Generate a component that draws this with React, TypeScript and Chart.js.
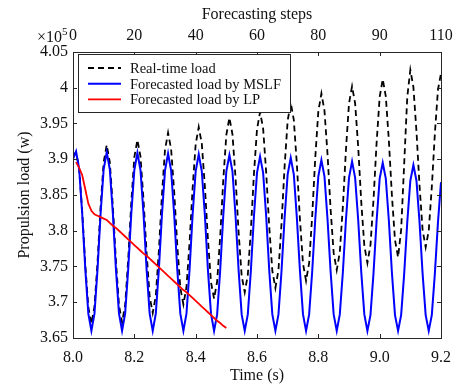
import { useEffect, useRef } from 'react';
import { Chart, registerables } from 'chart.js';

Chart.register(...registerables);

// Sampling times (s)
const sampleTimes = [
  8.00, 8.01, 8.02, 8.03, 8.04, 8.05, 8.06, 8.07, 8.08, 8.09,
  8.10, 8.11, 8.12, 8.13, 8.14, 8.15, 8.16, 8.17, 8.18, 8.19,
  8.20, 8.21, 8.22, 8.23, 8.24, 8.25, 8.26, 8.27, 8.28, 8.29,
  8.30, 8.31, 8.32, 8.33, 8.34, 8.35, 8.36, 8.37, 8.38, 8.39,
  8.40, 8.41, 8.42, 8.43, 8.44, 8.45, 8.46, 8.47, 8.48, 8.49,
  8.50, 8.51, 8.52, 8.53, 8.54, 8.55, 8.56, 8.57, 8.58, 8.59,
  8.60, 8.61, 8.62, 8.63, 8.64, 8.65, 8.66, 8.67, 8.68, 8.69,
  8.70, 8.71, 8.72, 8.73, 8.74, 8.75, 8.76, 8.77, 8.78, 8.79,
  8.80, 8.81, 8.82, 8.83, 8.84, 8.85, 8.86, 8.87, 8.88, 8.89,
  8.90, 8.91, 8.92, 8.93, 8.94, 8.95, 8.96, 8.97, 8.98, 8.99,
  9.00, 9.01, 9.02, 9.03, 9.04, 9.05, 9.06, 9.07, 9.08, 9.09,
  9.10, 9.11, 9.12, 9.13, 9.14, 9.15, 9.16, 9.17, 9.18, 9.19,
  9.20,
];

// Real-time load (x10^5 w)
const realTimeLoad = [
  3.905, 3.910, 3.887, 3.827, 3.753, 3.693, 3.670, 3.694, 3.756, 3.834, 3.896,
  3.920, 3.896, 3.834, 3.758, 3.696, 3.672, 3.696, 3.760, 3.839, 3.903,
  3.927, 3.904, 3.843, 3.769, 3.708, 3.685, 3.709, 3.772, 3.850, 3.913,
  3.937, 3.914, 3.854, 3.780, 3.720, 3.697, 3.721, 3.783, 3.859, 3.921,
  3.945, 3.922, 3.862, 3.788, 3.728, 3.705, 3.729, 3.792, 3.871, 3.934,
  3.958, 3.935, 3.874, 3.798, 3.737, 3.714, 3.738, 3.801, 3.879, 3.942,
  3.966, 3.943, 3.881, 3.805, 3.744, 3.720, 3.745, 3.810, 3.890, 3.954,
  3.979, 3.955, 3.893, 3.816, 3.754, 3.730, 3.755, 3.821, 3.902, 3.967,
  3.992, 3.968, 3.907, 3.830, 3.769, 3.745, 3.770, 3.834, 3.913, 3.978,
  4.002, 3.978, 3.917, 3.840, 3.779, 3.755, 3.780, 3.844, 3.923, 3.987,
  4.012, 3.988, 3.926, 3.849, 3.787, 3.763, 3.801, 3.894, 3.987, 4.025,
  4.001, 3.939, 3.863, 3.801, 3.777, 3.800, 3.861, 3.936, 3.997, 4.020,
];

// Forecasted load by MSLF (x10^5 w)
const mslfLoad = [
  3.900, 3.911, 3.887, 3.824, 3.747, 3.684, 3.660, 3.684, 3.746, 3.824, 3.886,
  3.910, 3.886, 3.824, 3.746, 3.684, 3.660, 3.684, 3.746, 3.823, 3.885,
  3.909, 3.885, 3.823, 3.746, 3.684, 3.660, 3.684, 3.746, 3.822, 3.884,
  3.908, 3.884, 3.822, 3.746, 3.684, 3.660, 3.684, 3.745, 3.822, 3.883,
  3.907, 3.883, 3.822, 3.745, 3.684, 3.660, 3.683, 3.745, 3.821, 3.883,
  3.906, 3.883, 3.821, 3.745, 3.683, 3.660, 3.683, 3.744, 3.820, 3.881,
  3.904, 3.881, 3.820, 3.744, 3.683, 3.660, 3.683, 3.744, 3.818, 3.879,
  3.902, 3.879, 3.818, 3.744, 3.683, 3.660, 3.683, 3.743, 3.816, 3.876,
  3.899, 3.876, 3.816, 3.743, 3.683, 3.660, 3.683, 3.742, 3.815, 3.874,
  3.897, 3.874, 3.815, 3.742, 3.683, 3.660, 3.682, 3.741, 3.814, 3.873,
  3.895, 3.873, 3.814, 3.741, 3.682, 3.660, 3.682, 3.740, 3.812, 3.870,
  3.892, 3.870, 3.812, 3.740, 3.682, 3.660, 3.682, 3.740, 3.811, 3.868,
];

// Forecasted load by LP (x10^5 w), from 8.01 s to 8.50 s
const lpTimes = sampleTimes.slice(1, 51);
const lpLoad = [
  3.896, 3.888, 3.878, 3.858, 3.838, 3.828, 3.823, 3.821, 3.819, 3.817,
  3.815, 3.811, 3.807, 3.804, 3.800, 3.796, 3.792, 3.788, 3.784, 3.780,
  3.776, 3.772, 3.768, 3.765, 3.761, 3.757, 3.753, 3.749, 3.745, 3.741,
  3.737, 3.733, 3.729, 3.725, 3.721, 3.717, 3.714, 3.710, 3.706, 3.702,
  3.698, 3.694, 3.690, 3.686, 3.682, 3.678, 3.674, 3.671, 3.667, 3.664,
];

const stepLabels = ['0', '20', '40', '60', '80', '90', '110'];
const seriesNames = ['Real-time load', 'Forecasted load by MSLF', 'Forecasted load by LP'];

const FONT = 'Liberation Serif';
const INK = '#262626';

const boxPlugin = {
  id: 'matlabDecor',
  afterDatasetsDraw(chart: any) {
    const { ctx, chartArea: a, scales } = chart;
    ctx.save();
    // inward ticks
    ctx.strokeStyle = INK;
    ctx.lineWidth = 1;
    const tl = 4;
    scales.x.ticks.forEach((t: any) => {
      const px = Math.round(scales.x.getPixelForValue(t.value)) + 0.5;
      ctx.beginPath();
      ctx.moveTo(px, a.bottom);
      ctx.lineTo(px, a.bottom - tl);
      ctx.moveTo(px, a.top);
      ctx.lineTo(px, a.top + tl);
      ctx.stroke();
    });
    scales.y.ticks.forEach((t: any) => {
      const py = Math.round(scales.y.getPixelForValue(t.value)) + 0.5;
      ctx.beginPath();
      ctx.moveTo(a.left, py);
      ctx.lineTo(a.left + tl, py);
      ctx.moveTo(a.right, py);
      ctx.lineTo(a.right - tl, py);
      ctx.stroke();
    });
    // box
    ctx.strokeRect(Math.round(a.left) + 0.5, Math.round(a.top) + 0.5, Math.round(a.right - a.left), Math.round(a.bottom - a.top));

    // legend
    const lx = a.left + 5;
    const ly = a.top + 2;
    const lw = 212;
    const lh = 58;
    ctx.fillStyle = '#ffffff';
    ctx.fillRect(lx, ly, lw, lh);
    ctx.strokeStyle = INK;
    ctx.lineWidth = 1;
    ctx.strokeRect(Math.round(lx) + 0.5, Math.round(ly) + 0.5, lw, lh);
    ctx.font = `14.5px "${FONT}"`;
    ctx.textBaseline = 'middle';
    ctx.textAlign = 'left';
    chart.data.datasets.forEach((ds: any, i: number) => {
      const y = ly + 14 + i * 15.7;
      ctx.beginPath();
      ctx.strokeStyle = ds.borderColor;
      ctx.lineWidth = ds.borderWidth;
      ctx.setLineDash(ds.borderDash || []);
      ctx.moveTo(lx + 10, y);
      ctx.lineTo(lx + 43, y);
      ctx.stroke();
      ctx.setLineDash([]);
      ctx.fillStyle = '#111';
      ctx.fillText(ds.label, lx + 52, y + 1);
    });

    // exponent label
    ctx.fillStyle = '#111';
    ctx.textBaseline = 'alphabetic';
    ctx.font = `16px "${FONT}"`;
    ctx.fillText('\u00d710', a.left - 36, a.top - 10);
    ctx.font = `11px "${FONT}"`;
    ctx.fillText('5', a.left - 11, a.top - 17);
    ctx.restore();
  },
};

export default function App() {
  const ref = useRef<HTMLCanvasElement>(null);
  useEffect(() => {
    document.body.style.margin = '0';
    const tickFont = { family: FONT, size: 16 };
    const noGrid = { display: false, drawTicks: false, tickLength: 0 };
    const chart = new Chart(ref.current!, {
      type: 'line',
      data: {
        datasets: [
          {
            label: seriesNames[0],
            data: sampleTimes.map((t, i) => ({ x: t, y: realTimeLoad[i] })),
            borderColor: '#000000',
            borderWidth: 1.8,
            borderDash: [6, 4],
            pointRadius: 0,
            tension: 0,
            order: 3,
          },
          {
            label: seriesNames[1],
            data: sampleTimes.map((t, i) => ({ x: t, y: mslfLoad[i] })),
            borderColor: '#0000ff',
            borderWidth: 2,
            pointRadius: 0,
            tension: 0,
            order: 2,
          },
          {
            label: seriesNames[2],
            data: lpTimes.map((t, i) => ({ x: t, y: lpLoad[i] })),
            borderColor: '#ff0000',
            borderWidth: 1.8,
            pointRadius: 0,
            tension: 0,
            order: 1,
          },
        ],
      },
      options: {
        animation: false,
        responsive: false,
        maintainAspectRatio: false,
        layout: { padding: 0 },
        plugins: { legend: { display: false }, tooltip: { enabled: false } },
        scales: {
          x: {
            type: 'linear',
            position: 'bottom',
            min: 8,
            max: 9.2,
            grid: noGrid,
            border: { display: false },
            ticks: {
              stepSize: 0.2,
              font: tickFont,
              color: '#111',
              padding: 10,
              maxRotation: 0,
              callback: (v: any) => Number(v).toFixed(1),
            },
            title: { display: true, text: 'Time (s)', font: tickFont, color: '#111', padding: { top: 0, bottom: 0 } },
            afterFit: (s: any) => { s.height = 47; },
          },
          x2: {
            type: 'linear',
            position: 'top',
            min: 8,
            max: 9.2,
            grid: noGrid,
            border: { display: false },
            ticks: {
              stepSize: 0.2,
              font: tickFont,
              color: '#111',
              padding: 7,
              maxRotation: 0,
              callback: (_v: any, i: number) => stepLabels[i],
            },
            title: { display: true, text: 'Forecasting steps', font: tickFont, color: '#111', padding: { top: 5, bottom: 0 } },
            afterFit: (s: any) => { s.height = 52; },
          },
          y: {
            type: 'linear',
            position: 'left',
            min: 3.65,
            max: 4.05,
            grid: noGrid,
            border: { display: false },
            ticks: {
              stepSize: 0.05,
              font: tickFont,
              color: '#111',
              padding: 5,
              callback: (v: any) => String(Number(Number(v).toFixed(2))),
            },
            title: { display: true, text: 'Propulsion load (w)', font: tickFont, color: '#111', padding: { top: 15, bottom: 0 } },
            afterFit: (s: any) => { s.width = 73; },
          },
          y2: {
            type: 'linear',
            position: 'right',
            min: 3.65,
            max: 4.05,
            grid: noGrid,
            border: { display: false },
            ticks: { display: false },
            afterFit: (s: any) => { s.width = 14; },
          },
        },
      } as any,
      plugins: [boxPlugin],
    });
    return () => chart.destroy();
  }, []);
  return (
    <div style={{ position: 'absolute', left: 0, top: 0, width: 461, height: 385, background: '#fff' }}>
      <canvas ref={ref} width={461} height={385} />
    </div>
  );
}
